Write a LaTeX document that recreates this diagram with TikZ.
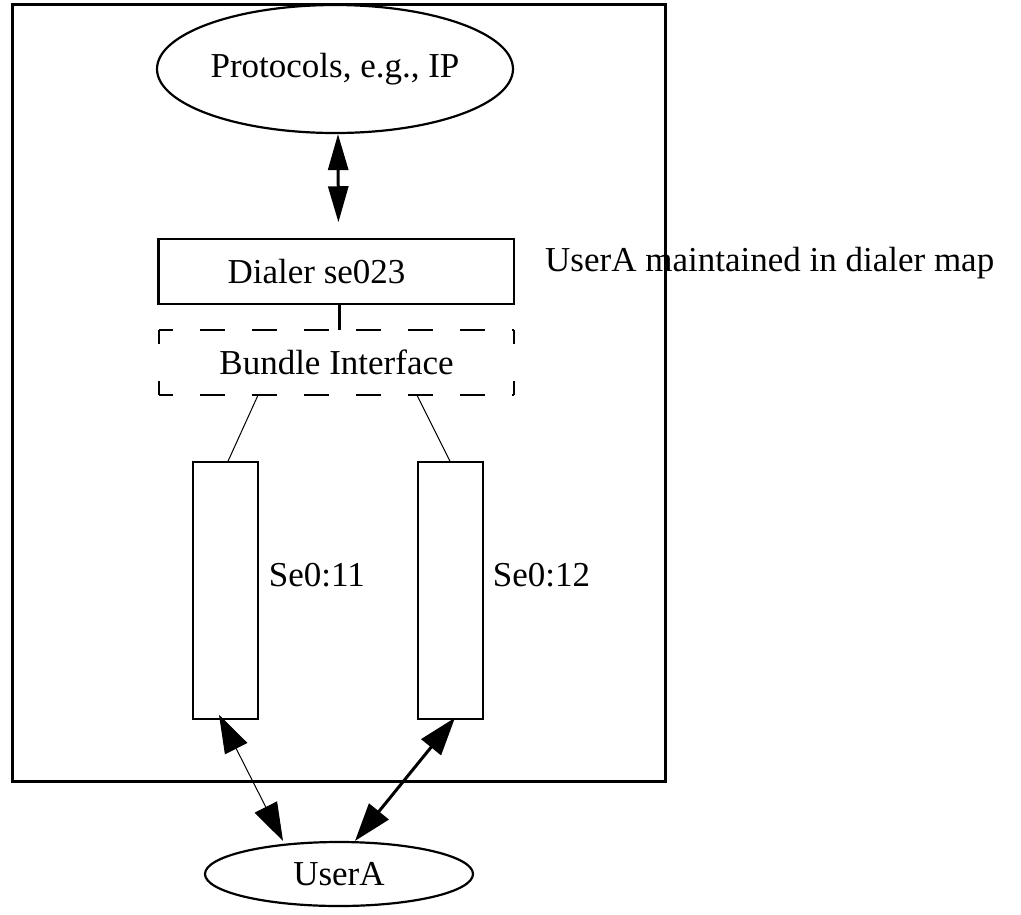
\documentclass[tikz,border=0pt]{standalone}
\usepackage{fontspec}
\setmainfont{Liberation Serif}
\usetikzlibrary{arrows.meta,shapes.geometric}
\begin{document}
\begin{tikzpicture}[x=1pt,y=-1pt,
  every node/.style={font=\fontsize{35}{41}\selectfont, inner sep=0pt},
  oval/.style={ellipse, draw, line width=2.2pt},
  box/.style={rectangle, draw, line width=1.5pt},
  hdash/.style={line width=2.2pt, dash pattern=on 25pt off 27pt, dash phase=11pt},
  vdash/.style={line width=2.2pt, dash pattern=on 14pt off 37pt},
  link/.style={line width=1pt},
  headA/.style={{Triangle[length=36pt,width=20pt]}-{Triangle[length=36pt,width=20pt]}},
  headB/.style={{Triangle[length=38pt,width=25pt]}-{Triangle[length=38pt,width=25pt]}}
]
\useasboundingbox (0,0) rectangle (1021,914);

% nodes
\node[oval, minimum width=356pt, minimum height=128pt] (proto) at (335,69) {Protocols, e.g., IP};
\node[box, minimum width=355pt, minimum height=65pt] (dialer) at (336.5,271.5) {Dialer se023\hspace*{40pt}};
\draw[line width=3pt] (dialer.north west) -- (dialer.south west);
\node[minimum width=355pt, minimum height=65pt] (bundle) at (336.5,362.5) {Bundle Interface};
\node[box, minimum width=65pt, minimum height=257pt] (s11) at (225.5,590.5) {};
\node[box, minimum width=65pt, minimum height=257pt] (s12) at (450.5,590.5) {};
\node[anchor=west] (l11) at ([xshift=10pt,yshift=15pt]s11.east) {Se0:11};
\node[anchor=west] (l12) at ([xshift=9pt,yshift=15pt]s12.east) {Se0:12};
\node[oval, minimum width=268pt, minimum height=64pt] (user) at (339,874) {UserA};
\node[anchor=west] (note) at (545,263) {UserA maintained in dialer map};

% dashed outline of the bundle interface
\draw[hdash] (bundle.north west) -- (bundle.north east);
\draw[hdash] (bundle.south west) -- (bundle.south east);
\draw[vdash] (bundle.north west) -- (bundle.south west);
\draw[vdash] (bundle.north east) -- (bundle.south east);

% router boundary
\draw[line width=3pt] (12,4) rectangle (665,781);

% connectors
\draw[headA, line width=3pt, shorten >=16pt] ([xshift=3pt]proto.south) -- ([xshift=2pt]dialer.north);
\draw[line width=3pt] ([xshift=2.5pt]dialer.south) -- ([xshift=2.5pt]bundle.north);
\draw[link] ([xshift=-78.5pt]bundle.south) -- ([xshift=2.5pt]s11.north);
\draw[link] ([xshift=80.5pt]bundle.south) -- ([xshift=-0.5pt]s12.north);
\draw[headB, line width=1pt] ([xshift=-6.5pt,yshift=5pt]s11.south) -- ([xshift=-56pt]user.north);
\draw[headB, line width=3pt] ([xshift=4.5pt,yshift=2pt]s12.south) -- ([xshift=16pt]user.north);
\end{tikzpicture}
\end{document}
